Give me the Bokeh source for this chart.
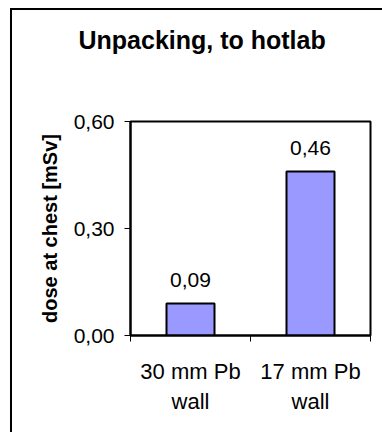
from bokeh.plotting import figure
from bokeh.layouts import column
from bokeh.models import FixedTicker, Range1d
from bokeh.embed import file_html
from bokeh.resources import INLINE
from bokeh.core.properties import value

# ---- data ----
categories = ["30 mm Pb\nwall", "17 mm Pb\nwall"]
doses = [0.09, 0.46]
y_ticks = [0.0, 0.30, 0.60]
y_tick_labels = ["0,00", "0,30", "0,60"]
title_text = "Unpacking, to hotlab"
y_label = "dose at chest [mSv]"

FONT = "Liberation Sans"
n = len(categories)
centers = [i + 0.5 for i in range(n)]
bounds = [float(i) for i in range(n + 1)]
value_texts = [f"{v:.2f}".replace(".", ",") for v in doses]

p = figure(width=370, height=422, output_backend="svg", toolbar_location=None,
           x_range=Range1d(0, n), y_range=Range1d(y_ticks[0], y_ticks[-1]),
           min_border_left=118, min_border_right=12, min_border_top=111,
           min_border_bottom=97)

p.background_fill_color = "white"
p.border_fill_color = "white"
p.outline_line_color = "black"
p.outline_line_width = 2
p.xgrid.visible = False
p.ygrid.visible = False

# title
p.title.text = title_text
p.title.align = "left"
p.title.offset = -52
p.title.standoff = 0
p.title.padding = dict(left=0, right=0, top=0, bottom=68)
p.title.text_font = FONT
p.title.text_font_size = "25px"
p.title.text_font_style = "bold"
p.title.text_color = "black"

# bars
p.vbar(x=centers, top=doses, width=0.4, fill_color="#9999FF",
       line_color="black", line_width=2)

# value labels
p.text(x=centers, y=doses, text=value_texts, text_align="center",
       text_baseline="alphabetic", y_offset=-23,
       text_font=value(FONT), text_font_size="21px", text_color="black")

# x axis
xa = p.below[0]
xa.ticker = FixedTicker(ticks=centers, minor_ticks=bounds)
xa.major_label_overrides = {c: lab for c, lab in zip(centers, categories)}
xa.major_tick_out = 0
xa.major_tick_in = 0
xa.minor_tick_out = 6
xa.minor_tick_in = 0
xa.minor_tick_line_color = "black"
xa.axis_line_color = "black"
xa.axis_line_width = 2
xa.major_label_text_font = FONT
xa.major_label_text_font_size = "22px"
xa.major_label_text_color = "black"
xa.major_label_standoff = 17

# y axis
ya = p.yaxis[0]
ya.ticker = FixedTicker(ticks=y_ticks, minor_ticks=[])
ya.major_label_overrides = {t: lab for t, lab in zip(y_ticks, y_tick_labels)}
ya.major_tick_out = 6
ya.major_tick_in = 0
ya.major_tick_line_color = "black"
ya.axis_line_color = "black"
ya.axis_line_width = 2
ya.major_label_text_font = FONT
ya.major_label_text_font_size = "21px"
ya.major_label_text_color = "black"
ya.major_label_standoff = 10
ya.axis_label = y_label
ya.axis_label_text_font = FONT
ya.axis_label_text_font_size = "20px"
ya.axis_label_text_font_style = "bold"
ya.axis_label_text_color = "black"
ya.axis_label_standoff = 10

layout = column(p, styles={"border-left": "2px solid black",
                           "border-top": "2px solid black",
                           "margin-left": "10px", "margin-top": "8px"})

open("out.html", "w").write(file_html(layout, INLINE))
